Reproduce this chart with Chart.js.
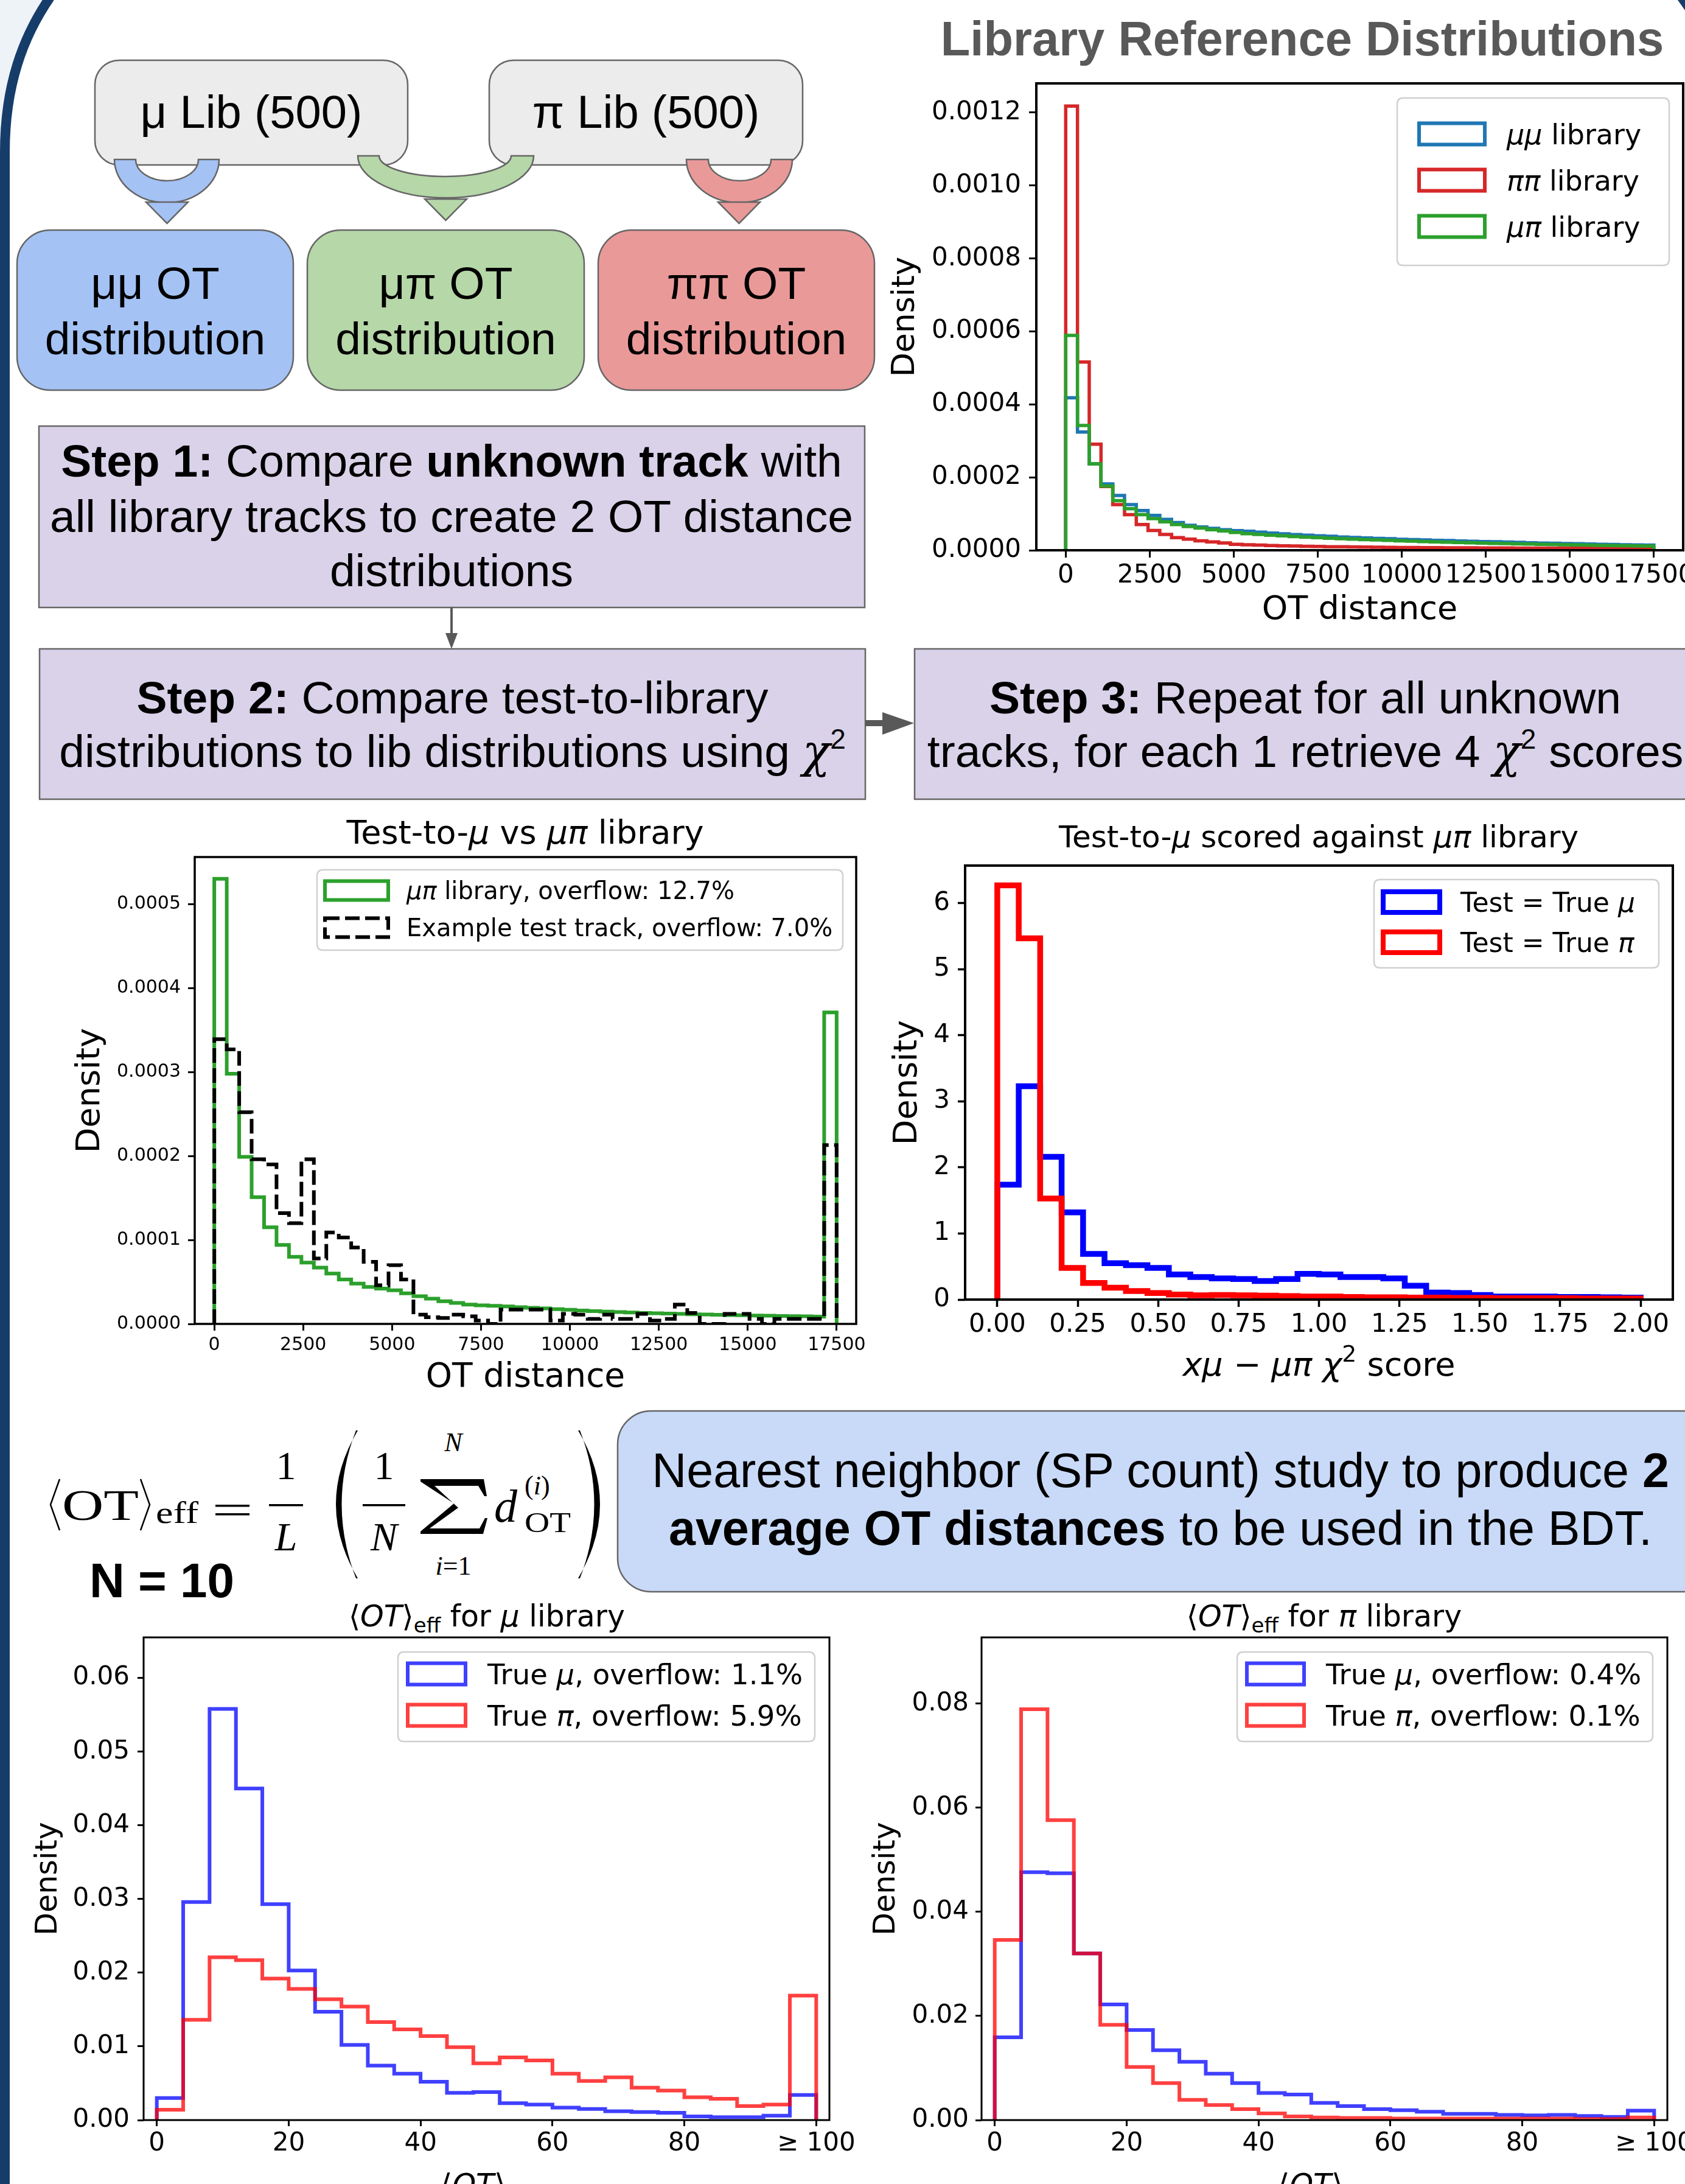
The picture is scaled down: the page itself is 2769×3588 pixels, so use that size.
<!DOCTYPE html>
<html><head><meta charset="utf-8">
<script src="https://cdn.jsdelivr.net/npm/chart.js@4.4.1/dist/chart.umd.min.js"></script>
<style>
html,body{margin:0;padding:0;background:#fff;}
#page{position:relative;width:2769px;height:3588px;overflow:hidden;background:#fff;}
#deco{position:absolute;left:0;top:0;}
canvas{position:absolute;}
.sans{font-family:"Liberation Sans",Arial,sans-serif;}
.dv{font-family:"DejaVu Sans",sans-serif;}
.serif{font-family:"Liberation Serif","DejaVu Serif",serif;}
</style></head>
<body><div id="page">
<svg id="deco" width="2769" height="3588" xmlns="http://www.w3.org/2000/svg">
 <path d="M0,0 L80,0 C38,60 8,140 8,250 L0,250 Z" fill="#eef3f8"/>
 <path d="M82,-4 C38,60 8,140 8,250 L8,3600" fill="none" stroke="#163d6a" stroke-width="16"/>
 <path d="M2757,0 L2769,0 L2769,17 Z" fill="#163d6a"/>

 <g stroke="#666" stroke-width="2.5">
  <rect x="156" y="99" width="514" height="172" rx="40" fill="#ececec"/>
  <rect x="804" y="99" width="515" height="172" rx="40" fill="#ececec"/>
  <path d="M188,262 A86,71 0 0 0 360,262 L326,262 A51.5,35 0 0 1 223,262 Z" fill="#a4c2f4"/>
  <polygon points="240,332 309,332 274.5,367" fill="#a4c2f4"/>
  <path d="M588,256 A144.5,69 0 0 0 877,256 L840,256 A108.5,34 0 0 1 623,256 Z" fill="#b6d7a8"/>
  <polygon points="698,327 767,327 732.5,362" fill="#b6d7a8"/>
  <path d="M1128,262 A87,71 0 0 0 1302,262 L1267,262 A51.5,35 0 0 1 1164,262 Z" fill="#ea9999"/>
  <polygon points="1180,332 1249,332 1214.5,367" fill="#ea9999"/>
  <rect x="28" y="378" width="454" height="263" rx="55" fill="#a4c2f4"/>
  <rect x="505" y="378" width="455" height="263" rx="55" fill="#b6d7a8"/>
  <rect x="983" y="378" width="454" height="263" rx="55" fill="#ea9999"/>
  <rect x="64" y="700" width="1357" height="298" fill="#d9d2e9"/>
  <rect x="65" y="1066" width="1357" height="247" fill="#d9d2e9"/>
  <rect x="1503" y="1066" width="1320" height="247" fill="#d9d2e9"/>
  <rect x="1015" y="2318" width="1820" height="297" rx="55" fill="#c9daf8"/>
 </g>
 <g fill="#595959">
  <rect x="740" y="998" width="4" height="45"/>
  <polygon points="732,1040 752,1040 742,1066"/>
  <rect x="1422" y="1183" width="46" height="10"/>
  <polygon points="1450,1170 1450,1207 1502,1188"/>
 </g>

 <g class="sans" fill="#000" text-anchor="middle">
  <text x="413" y="210" font-size="76">μ Lib (500)</text>
  <text x="1061.5" y="210" font-size="76">π Lib (500)</text>
  <text x="255" y="491" font-size="75">μμ OT</text>
  <text x="255" y="582" font-size="75">distribution</text>
  <text x="732.5" y="491" font-size="75">μπ OT</text>
  <text x="732.5" y="582" font-size="75">distribution</text>
  <text x="1210" y="491" font-size="75">ππ OT</text>
  <text x="1210" y="582" font-size="75">distribution</text>
  <text x="742" y="783" font-size="75"><tspan font-weight="bold">Step 1:</tspan> Compare <tspan font-weight="bold">unknown track</tspan> with</text>
  <text x="742" y="874" font-size="75">all library tracks to create 2 OT distance</text>
  <text x="742" y="963" font-size="75">distributions</text>
  <text x="743.5" y="1172" font-size="75"><tspan font-weight="bold">Step 2:</tspan> Compare test-to-library</text>
  <text x="743.5" y="1260" font-size="75">distributions to lib distributions using <tspan font-family="DejaVu Serif" font-style="italic">χ</tspan><tspan font-size="46" dy="-30">2</tspan></text>
  <text x="2145" y="1172" font-size="75"><tspan font-weight="bold">Step 3:</tspan> Repeat for all unknown</text>
  <text x="2145" y="1260" font-size="75">tracks, for each 1 retrieve 4 <tspan font-family="DejaVu Serif" font-style="italic">χ</tspan><tspan font-size="46" dy="-30">2</tspan><tspan dy="30"> scores</tspan></text>
  <text x="2140" y="91" font-size="79.5" font-weight="bold" fill="#595959">Library Reference Distributions</text>
  <text x="1907" y="2443" font-size="79">Nearest neighbor (SP count) study to produce <tspan font-weight="bold">2</tspan></text>
  <text x="1907" y="2538" font-size="79"><tspan font-weight="bold">average OT distances</tspan> to be used in the BDT.</text>
 </g>
 <text class="sans" x="147" y="2624" font-size="80" font-weight="bold">N = 10</text>

 <g class="dv" fill="#000" text-anchor="middle">
  <text x="863" y="1386" font-size="54">Test-to-<tspan font-style="italic">μ</tspan> vs <tspan font-style="italic">μπ</tspan> library</text>
  <text x="2167" y="1392" font-size="50">Test-to-<tspan font-style="italic">μ</tspan> scored against <tspan font-style="italic">μπ</tspan> library</text>
  <text x="800" y="2672" font-size="49">⟨<tspan font-style="italic">OT</tspan>⟩<tspan font-size="34" dy="10">eff</tspan><tspan dy="-10"> for </tspan><tspan font-style="italic">μ</tspan> library</text>
  <text x="2176" y="2672" font-size="49">⟨<tspan font-style="italic">OT</tspan>⟩<tspan font-size="34" dy="10">eff</tspan><tspan dy="-10"> for </tspan><tspan font-style="italic">π</tspan> library</text>
 </g>

 <g class="serif" fill="#000">
  <path d="M98,2430 L83,2472 L98,2514" fill="none" stroke="#000" stroke-width="2.5"/>
  <text x="102" y="2497" font-size="72" textLength="126" lengthAdjust="spacingAndGlyphs">OT</text>
  <path d="M231,2430 L246,2472 L231,2514" fill="none" stroke="#000" stroke-width="2.5"/>
  <text x="256" y="2502" font-size="50" textLength="70" lengthAdjust="spacingAndGlyphs">eff</text>
  <rect x="354" y="2472" width="56" height="3.5"/>
  <rect x="354" y="2486" width="56" height="3.5"/>
  <text x="470" y="2430" font-size="66" text-anchor="middle">1</text>
  <rect x="442" y="2471" width="56" height="3.5"/>
  <text x="470" y="2547" font-size="66" font-style="italic" text-anchor="middle">L</text>
  <path d="M588,2350 Q516,2471 588,2593 L585,2593 Q538,2471 585,2350 Z"/>
  <text x="631" y="2430" font-size="66" text-anchor="middle">1</text>
  <rect x="596" y="2471" width="70" height="3.5"/>
  <text x="631" y="2547" font-size="66" font-style="italic" text-anchor="middle">N</text>
  <path d="M691,2430 L795,2430 L800,2458 L796,2458 L786,2441 L714,2441 L753,2477 L706,2511 L788,2511 L797,2494 L801,2494 L794,2520 L691,2520 L691,2516 L746,2470 L691,2434 Z"/>
  <text x="745" y="2384" font-size="44" font-style="italic" text-anchor="middle">N</text>
  <text x="745" y="2587" font-size="44" text-anchor="middle"><tspan font-style="italic">i</tspan>=1</text>
  <text x="812" y="2500" font-size="76" font-style="italic">d</text>
  <text x="862" y="2455" font-size="44">(<tspan font-style="italic">i</tspan>)</text>
  <text x="862" y="2517" font-size="46" textLength="76" lengthAdjust="spacingAndGlyphs">OT</text>
  <path d="M950,2350 Q1022,2471 950,2593 L953,2593 Q1000,2471 953,2350 Z"/>
 </g>
</svg>
</div>
<script>
// ---------------- data ----------------
const OT_BIN_WIDTH = 350;
const OT_EDGES = Array.from({length: 51}, (_, i) => i * OT_BIN_WIDTH);
const CHI_EDGES = Array.from({length: 31}, (_, i) => +(i * 2 / 30).toFixed(6));
const OTEFF_EDGES = Array.from({length: 26}, (_, i) => i * 4);

const OT_X_TICKS = [0, 2500, 5000, 7500, 10000, 12500, 15000, 17500];
const LIB_Y_TICKS = [0, 0.0002, 0.0004, 0.0006, 0.0008, 0.0010, 0.0012];
const TEST_Y_TICKS = [0, 0.0001, 0.0002, 0.0003, 0.0004, 0.0005];
const CHI_X_TICKS = [0, 0.25, 0.5, 0.75, 1.0, 1.25, 1.5, 1.75, 2.0];
const CHI_Y_TICKS = [0, 1, 2, 3, 4, 5, 6];
const OTEFF_X_TICKS = [0, 20, 40, 60, 80, 100];
const OTEFF_X_LABELS = ['0', '20', '40', '60', '80', '≥ 100'];
const MU_LIB_Y_TICKS = [0, 0.01, 0.02, 0.03, 0.04, 0.05, 0.06];
const PI_LIB_Y_TICKS = [0, 0.02, 0.04, 0.06, 0.08];

// Library reference distributions (density per 350-wide OT bin)
const LIB_MUMU = [0.000418,0.000324,0.000237,0.000182,0.000150,0.000125,0.000109,0.0000956,0.0000847,0.0000760,
  0.0000684,0.0000640,0.0000600,0.0000565,0.0000540,0.0000521,0.0000495,0.0000470,0.0000450,0.0000430,
  0.0000413,0.0000398,0.0000382,0.0000365,0.0000350,0.0000337,0.0000326,0.0000315,0.0000302,0.0000292,
  0.0000282,0.0000273,0.0000265,0.0000256,0.0000248,0.0000239,0.0000232,0.0000224,0.0000216,0.0000206,
  0.0000195,0.0000190,0.0000184,0.0000178,0.0000170,0.0000163,0.0000158,0.0000152,0.0000147,0.0000141];
const LIB_PIPI = [0.001218,0.000516,0.000291,0.000175,0.000125,0.0000977,0.0000706,0.0000543,0.0000434,0.0000348,
  0.0000304,0.0000260,0.0000228,0.0000200,0.0000163,0.0000150,0.0000140,0.0000130,0.0000122,0.0000115,
  0.0000109,0.0000103,0.0000098,0.0000094,0.0000090,0.0000086,0.0000083,0.0000080,0.0000076,0.0000074,
  0.0000072,0.0000070,0.0000068,0.0000066,0.0000065,0.0000064,0.0000062,0.0000061,0.0000060,0.0000059,
  0.0000058,0.0000057,0.0000057,0.0000056,0.0000056,0.0000055,0.0000055,0.0000054,0.0000054,0.0000054];
const LIB_MUPI = [0.000589,0.000342,0.000237,0.000176,0.000136,0.000114,0.0000977,0.0000869,0.0000782,0.0000706,
  0.0000652,0.0000608,0.0000565,0.0000530,0.0000490,0.0000456,0.0000435,0.0000415,0.0000395,0.0000375,
  0.0000358,0.0000345,0.0000330,0.0000317,0.0000305,0.0000293,0.0000283,0.0000272,0.0000260,0.0000250,
  0.0000239,0.0000230,0.0000222,0.0000213,0.0000204,0.0000195,0.0000189,0.0000183,0.0000177,0.0000170,
  0.0000163,0.0000158,0.0000152,0.0000146,0.0000140,0.0000135,0.0000130,0.0000125,0.0000120,0.0000115];

// Test-to-mu vs mu-pi library (last bin = overflow)
const TEST_LIB_MUPI = [0.000530,0.000298,0.000199,0.000151,0.000115,0.000094,0.000080,0.000073,0.000067,0.000060,
  0.000053,0.000048,0.000044,0.000042,0.000040,0.0000365,0.000033,0.000030,0.000027,0.000025,
  0.000023,0.0000222,0.0000215,0.0000208,0.0000200,0.0000192,0.0000184,0.0000176,0.0000168,0.0000160,
  0.0000153,0.0000147,0.0000141,0.0000136,0.0000131,0.0000127,0.0000123,0.0000119,0.0000115,0.0000112,
  0.0000109,0.0000106,0.0000103,0.0000100,0.0000097,0.0000094,0.0000092,0.0000090,0.0000087,0.000371];
const TEST_TRACK = [0.000339,0.000327,0.000252,0.000196,0.000190,0.000132,0.000120,0.000196,0.000078,0.000109,
  0.000103,0.000091,0.000074,0.000046,0.000070,0.000053,0.000011,0.000008,0.000007,0.000011,
  0.000009,0.000004,0,0.000017,0.000017,0.000017,0.000017,0.000004,0.000012,0.000011,
  0.000006,0.000011,0.000006,0.000006,0.000012,0.000004,0.000006,0.000023,0.000013,0,
  0,0.000012,0.000012,0.000006,0,0.000006,0.000006,0.000006,0.000006,0.000213];

// chi2 scores against mu-pi library
const SCORE_TRUE_MU = [1.74,3.23,2.16,1.32,0.69,0.55,0.52,0.48,0.38,0.34,0.32,0.31,0.28,0.31,0.39,
  0.38,0.34,0.34,0.32,0.21,0.106,0.10,0.07,0.047,0.047,0.047,0.04,0.04,0.035,0.03];
const SCORE_TRUE_PI = [6.27,5.47,1.53,0.48,0.25,0.18,0.13,0.10,0.076,0.065,0.07,0.065,0.06,0.053,0.045,
  0.045,0.04,0.035,0.035,0.03,0.03,0.025,0.025,0.02,0.02,0.02,0.02,0.015,0.015,0.015];

// <OT>eff (last bin = overflow >= 100)
const MU_LIB_TRUE_MU = [0.0030,0.0296,0.0558,0.0450,0.0293,0.0203,0.0147,0.0102,0.0074,0.0063,0.0052,0.0037,0.0038,
  0.0023,0.0021,0.0017,0.0015,0.0012,0.0011,0.0010,0.0005,0.0004,0.0004,0.0006,0.0034];
const MU_LIB_TRUE_PI = [0.0014,0.0136,0.0221,0.0217,0.0192,0.0178,0.0164,0.0154,0.0133,0.0123,0.0114,0.0099,0.0077,
  0.0085,0.0081,0.0063,0.0053,0.0058,0.0044,0.0040,0.0031,0.0029,0.0019,0.0021,0.0169];
const PI_LIB_TRUE_MU = [0.0159,0.0476,0.0474,0.0320,0.0222,0.0173,0.0134,0.0112,0.0089,0.0071,0.0052,0.0049,0.0033,
  0.0027,0.0021,0.0019,0.0016,0.0012,0.0012,0.0010,0.0009,0.0010,0.0008,0.0006,0.0018];
const PI_LIB_TRUE_PI = [0.0346,0.0789,0.0576,0.0320,0.0183,0.0102,0.0071,0.0039,0.0029,0.0021,0.0013,0.0007,0.0005,
  0.0004,0.0004,0.0003,0.0003,0.0003,0.0003,0.0003,0.0003,0.0003,0.0002,0.0002,0.0005];

// ---------------- helpers ----------------
const FONT = '"DejaVu Sans", sans-serif';

function histData(edges, vals) {
  const pts = [{x: edges[0], y: 0}];
  vals.forEach((v, i) => pts.push({x: edges[i + 1], y: v}));
  pts.push({x: edges[edges.length - 1], y: 0});
  return pts;
}

function ds(label, edges, vals, color, width, order, dash) {
  return {label, data: histData(edges, vals), borderColor: color, borderWidth: width, borderDash: dash || [],
    stepped: 'after', pointRadius: 0, pointHoverRadius: 0, fill: false, tension: 0,
    borderJoinStyle: 'miter', borderCapStyle: 'butt', order};
}

function drawRich(ctx, segs, x, y, size, align) {
  const parts = segs.map(([t, s]) => {
    const sz = (s === 'sub' || s === 'sup') ? size * 0.7 : size;
    const font = (s === 'i' ? 'italic ' : '') + sz + 'px ' + FONT;
    ctx.font = font;
    return {t, font, w: ctx.measureText(t).width, dy: s === 'sub' ? size * 0.22 : (s === 'sup' ? -size * 0.42 : 0)};
  });
  const total = parts.reduce((a, p) => a + p.w, 0);
  let cx = align === 'center' ? x - total / 2 : x;
  ctx.save();
  ctx.fillStyle = '#000'; ctx.textBaseline = 'alphabetic'; ctx.textAlign = 'left';
  parts.forEach(p => { ctx.font = p.font; ctx.fillText(p.t, cx, y + p.dy); cx += p.w; });
  ctx.restore();
}

function roundRect(ctx, x, y, w, h, r) {
  ctx.beginPath();
  ctx.moveTo(x + r, y); ctx.lineTo(x + w - r, y); ctx.quadraticCurveTo(x + w, y, x + w, y + r);
  ctx.lineTo(x + w, y + h - r); ctx.quadraticCurveTo(x + w, y + h, x + w - r, y + h);
  ctx.lineTo(x + r, y + h); ctx.quadraticCurveTo(x, y + h, x, y + h - r);
  ctx.lineTo(x, y + r); ctx.quadraticCurveTo(x, y, x + r, y); ctx.closePath();
}

const decoPlugin = {
  id: 'deco',
  afterDatasetsDraw(chart, args, o) {
    const {ctx, chartArea: a} = chart;
    ctx.save(); ctx.strokeStyle = '#000'; ctx.lineWidth = o.frameWidth;
    ctx.strokeRect(a.left, a.top, a.right - a.left, a.bottom - a.top); ctx.restore();
  },
  afterDraw(chart, args, o) {
    const ctx = chart.ctx; const ox = o.page.x, oy = o.page.y;
    const L = o.legend;
    if (L) {
      ctx.save();
      roundRect(ctx, L.box[0] - ox, L.box[1] - oy, L.box[2] - L.box[0], L.box[3] - L.box[1], 10);
      ctx.fillStyle = 'rgba(255,255,255,0.8)'; ctx.fill();
      ctx.strokeStyle = '#d0d0d0'; ctx.lineWidth = 2.5; ctx.stroke();
      ctx.restore();
      L.rows.forEach(r => {
        const d = chart.data.datasets[r.ds];
        ctx.save();
        ctx.strokeStyle = d.borderColor; ctx.lineWidth = L.lw; ctx.lineJoin = 'miter';
        ctx.setLineDash(d.borderDash || []);
        ctx.strokeRect(L.hx - ox, r.y - L.hh / 2 - oy, L.hw, L.hh);
        ctx.restore();
        drawRich(ctx, r.segs, L.tx - ox, r.y - oy + L.font * 0.36, L.font, 'left');
      });
    }
    if (o.xLabel) drawRich(ctx, o.xLabel.segs, o.xLabel.x - ox, o.xLabel.y - oy, o.xLabel.font, 'center');
  }
};

function axisCfg(o) {
  return {
    type: 'linear', min: o.min, max: o.max, position: o.pos,
    afterBuildTicks: s => { s.ticks = o.ticks.map(v => ({value: v})); },
    afterFit: s => {
      if (o.pos === 'left') s.width = o.size; else s.height = o.size;
      s.paddingLeft = 0; s.paddingRight = 0; s.paddingTop = 0; s.paddingBottom = 0;
    },
    grid: {display: true, drawOnChartArea: false, drawTicks: true, tickLength: o.tl, tickWidth: o.tw, tickColor: '#000'},
    border: {display: false},
    ticks: {color: '#000', font: {size: o.font, family: FONT}, padding: o.pad, maxRotation: 0, minRotation: 0,
      autoSkip: false, callback: o.fmt},
    title: o.title ? {display: true, text: o.title, color: '#000', font: {size: o.tfont, family: FONT}, padding: 0}
                   : {display: false}
  };
}

function makeChart(g, spec) {
  const cv = document.createElement('canvas');
  cv.width = g.w; cv.height = g.h;
  cv.style.left = g.x + 'px'; cv.style.top = g.y + 'px';
  cv.style.width = g.w + 'px'; cv.style.height = g.h + 'px';
  document.getElementById('page').appendChild(cv);
  const deco = Object.assign({}, spec.deco, {page: {x: g.x, y: g.y}});
  return new Chart(cv.getContext('2d'), {
    type: 'line',
    data: {datasets: spec.datasets},
    options: {
      responsive: false, animation: false, devicePixelRatio: 1, events: [],
      layout: {padding: {left: 0, top: g.padT, right: g.padR, bottom: 0}},
      scales: {x: axisCfg(spec.x), y: axisCfg(spec.y)},
      plugins: {legend: {display: false}, tooltip: {enabled: false}, title: {display: false}, deco}
    },
    plugins: [decoPlugin]
  });
}

const fmtInt = v => String(v);

// ---------------- Chart 1: library reference distributions ----------------
makeChart({x: 1457, y: 127, w: 1312, h: 908, padT: 10, padR: 3}, {
  datasets: [
    ds('μμ library', OT_EDGES, LIB_MUMU, '#1f77b4', 5.5, 3),
    ds('ππ library', OT_EDGES, LIB_PIPI, '#d62728', 5.5, 2),
    ds('μπ library', OT_EDGES, LIB_MUPI, '#2ca02c', 5.5, 1)
  ],
  x: {pos: 'bottom', min: -875, max: 18375, ticks: OT_X_TICKS, fmt: fmtInt, size: 131, tl: 12, tw: 3, font: 42, pad: 5,
      title: 'OT distance', tfont: 54},
  y: {pos: 'left', min: 0, max: 0.00128, ticks: LIB_Y_TICKS, fmt: v => v.toFixed(4), size: 246, tl: 12, tw: 3, font: 42, pad: 13,
      title: 'Density', tfont: 52},
  deco: {frameWidth: 4, legend: {box: [2296, 161, 2743, 436], hx: 2332, hw: 108, hh: 35, tx: 2476, font: 46, lw: 6,
    rows: [
      {ds: 0, y: 220, segs: [['μμ', 'i'], [' library', '']]},
      {ds: 1, y: 296, segs: [['ππ', 'i'], [' library', '']]},
      {ds: 2, y: 372, segs: [['μπ', 'i'], [' library', '']]}
    ]}}
});

// ---------------- Chart 2: test-to-mu vs mu-pi library ----------------
makeChart({x: 117, y: 1398, w: 1320, h: 899, padT: 10, padR: 30}, {
  datasets: [
    ds('μπ library, overflow: 12.7%', OT_EDGES, TEST_LIB_MUPI, '#2ca02c', 6, 2),
    ds('Example test track, overflow: 7.0%', OT_EDGES, TEST_TRACK, '#000000', 6, 1, [24, 9])
  ],
  x: {pos: 'bottom', min: -550, max: 18050, ticks: OT_X_TICKS, fmt: fmtInt, size: 122, tl: 11, tw: 3, font: 30, pad: 6,
      title: 'OT distance', tfont: 55},
  y: {pos: 'left', min: 0, max: 0.000556, ticks: TEST_Y_TICKS, fmt: v => v.toFixed(4), size: 203, tl: 11, tw: 3, font: 30, pad: 12,
      title: 'Density', tfont: 54},
  deco: {frameWidth: 3.5, legend: {box: [521, 1429, 1385, 1561], hx: 534, hw: 104, hh: 31, tx: 668, font: 40, lw: 6,
    rows: [
      {ds: 0, y: 1463, segs: [['μπ', 'i'], [' library, overflow: 12.7%', '']]},
      {ds: 1, y: 1524, segs: [['Example test track, overflow: 7.0%', '']]}
    ]}}
});

// ---------------- Chart 3: chi2 scores ----------------
makeChart({x: 1460, y: 1412, w: 1309, h: 865, padT: 10, padR: 20}, {
  datasets: [
    ds('Test = True μ', CHI_EDGES, SCORE_TRUE_MU, '#0000ff', 9.5, 2),
    ds('Test = True π', CHI_EDGES, SCORE_TRUE_PI, '#ff0000', 9.5, 1)
  ],
  x: {pos: 'bottom', min: -0.1, max: 2.1, ticks: CHI_X_TICKS, fmt: v => v.toFixed(2), size: 142, tl: 12, tw: 3.5, font: 42, pad: 5},
  y: {pos: 'left', min: 0, max: 6.57, ticks: CHI_Y_TICKS, fmt: fmtInt, size: 126, tl: 12, tw: 3.5, font: 42, pad: 13,
      title: 'Density', tfont: 54},
  deco: {frameWidth: 4,
    legend: {box: [2258, 1445, 2726, 1590], hx: 2273, hw: 93, hh: 34, tx: 2400, font: 44, lw: 8,
      rows: [
        {ds: 0, y: 1482, segs: [['Test = True ', ''], ['μ', 'i']]},
        {ds: 1, y: 1548, segs: [['Test = True ', ''], ['π', 'i']]}
      ]},
    xLabel: {x: 2167.5, y: 2260, font: 54,
      segs: [['xμ', 'i'], [' − ', ''], ['μπ', 'i'], [' ', ''], ['χ', 'i'], ['2', 'sup'], [' score', '']]}}
});

// ---------------- Chart 4: <OT>eff for mu library ----------------
const oteffFmt = v => OTEFF_X_LABELS[OTEFF_X_TICKS.indexOf(v)];
makeChart({x: 51, y: 2680, w: 1357, h: 908, padT: 10, padR: 45}, {
  datasets: [
    ds('True μ, overflow: 1.1%', OTEFF_EDGES, MU_LIB_TRUE_MU, 'rgba(0,0,255,0.75)', 6, 2),
    ds('True π, overflow: 5.9%', OTEFF_EDGES, MU_LIB_TRUE_PI, 'rgba(255,0,0,0.75)', 6, 1)
  ],
  x: {pos: 'bottom', min: -2, max: 102, ticks: OTEFF_X_TICKS, fmt: oteffFmt, size: 105, tl: 10, tw: 3, font: 42, pad: 4},
  y: {pos: 'left', min: 0, max: 0.0655, ticks: MU_LIB_Y_TICKS, fmt: v => v.toFixed(2), size: 185, tl: 10, tw: 3, font: 42, pad: 13,
      title: 'Density', tfont: 49},
  deco: {frameWidth: 3,
    legend: {box: [654, 2714, 1339, 2861], hx: 670, hw: 95, hh: 35, tx: 801, font: 46.5, lw: 6,
      rows: [
        {ds: 0, y: 2750, segs: [['True ', ''], ['μ', 'i'], [', overflow: 1.1%', '']]},
        {ds: 1, y: 2818, segs: [['True ', ''], ['π', 'i'], [', overflow: 5.9%', '']]}
      ]},
    xLabel: {x: 800, y: 3606, font: 49, segs: [['⟨', ''], ['OT', 'i'], ['⟩', ''], ['eff', 'sub']]}}
});

// ---------------- Chart 5: <OT>eff for pi library ----------------
makeChart({x: 1428, y: 2680, w: 1341, h: 908, padT: 10, padR: 29}, {
  datasets: [
    ds('True μ, overflow: 0.4%', OTEFF_EDGES, PI_LIB_TRUE_MU, 'rgba(0,0,255,0.75)', 6, 2),
    ds('True π, overflow: 0.1%', OTEFF_EDGES, PI_LIB_TRUE_PI, 'rgba(255,0,0,0.75)', 6, 1)
  ],
  x: {pos: 'bottom', min: -2, max: 102, ticks: OTEFF_X_TICKS, fmt: oteffFmt, size: 105, tl: 10, tw: 3, font: 42, pad: 4},
  y: {pos: 'left', min: 0, max: 0.0927, ticks: PI_LIB_Y_TICKS, fmt: v => v.toFixed(2), size: 185, tl: 10, tw: 3, font: 42, pad: 11,
      title: 'Density', tfont: 49},
  deco: {frameWidth: 3,
    legend: {box: [2033, 2714, 2716, 2861], hx: 2049, hw: 94, hh: 35, tx: 2179, font: 46.5, lw: 6,
      rows: [
        {ds: 0, y: 2750, segs: [['True ', ''], ['μ', 'i'], [', overflow: 0.4%', '']]},
        {ds: 1, y: 2818, segs: [['True ', ''], ['π', 'i'], [', overflow: 0.1%', '']]}
      ]},
    xLabel: {x: 2176, y: 3606, font: 49, segs: [['⟨', ''], ['OT', 'i'], ['⟩', ''], ['eff', 'sub']]}}
});
</script>
</body></html>
